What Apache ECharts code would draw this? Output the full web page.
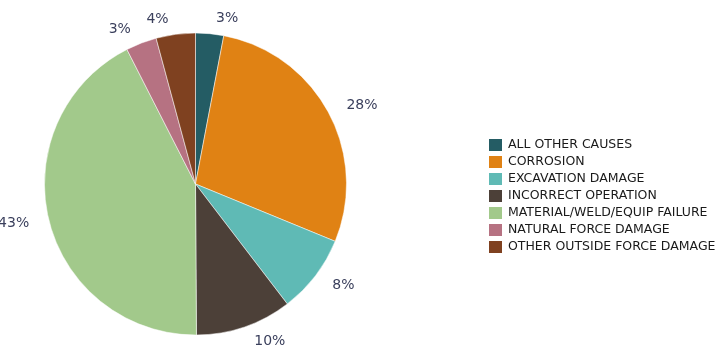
<!DOCTYPE html>
<html><head><meta charset="utf-8">
<script src="https://cdn.jsdelivr.net/npm/echarts@6/dist/echarts.min.js"></script>
<style>html,body{margin:0;padding:0;background:#fff}#c{width:724px;height:362px}</style>
</head><body><div id="c"></div>
<script>
const categories = ['ALL OTHER CAUSES','CORROSION','EXCAVATION DAMAGE','INCORRECT OPERATION','MATERIAL/WELD/EQUIP FAILURE','NATURAL FORCE DAMAGE','OTHER OUTSIDE FORCE DAMAGE'];
const values = [3.0, 28.2, 8.4, 10.3, 42.6, 3.3, 4.2];
const colors = ['#245c64','#e08214','#5fbab5','#4c4038','#a2c98b','#b67282','#7f4120'];

const chart = echarts.init(document.getElementById('c'));
chart.setOption({
  animation: false,
  color: colors,
  legend: {
    orient: 'vertical', left: 487, top: 137, padding: 0,
    itemWidth: 15, itemHeight: 14, itemGap: 1,
    icon: 'rect',
    textStyle: {fontFamily: 'DejaVu Sans', fontSize: 12.5, color: '#1a1a1a'},
    data: categories
  },
  series: [{
    type: 'pie',
    center: [195.5, 184], radius: 151,
    startAngle: 90, clockwise: true,
    avoidLabelOverlap: false,
    itemStyle: {borderColor: '#ffffff', borderWidth: 0.5},
    label: {
      show: true, position: 'outside',
      formatter: p => Math.round(p.value) + '%',
      fontFamily: 'DejaVu Sans', fontSize: 14, color: '#3a3f5c'
    },
    labelLine: {show: false, length: 15, length2: 0},
    emphasis: {disabled: true},
    data: categories.map((n, i) => ({name: n, value: values[i]}))
  }]
});
</script></body></html>
